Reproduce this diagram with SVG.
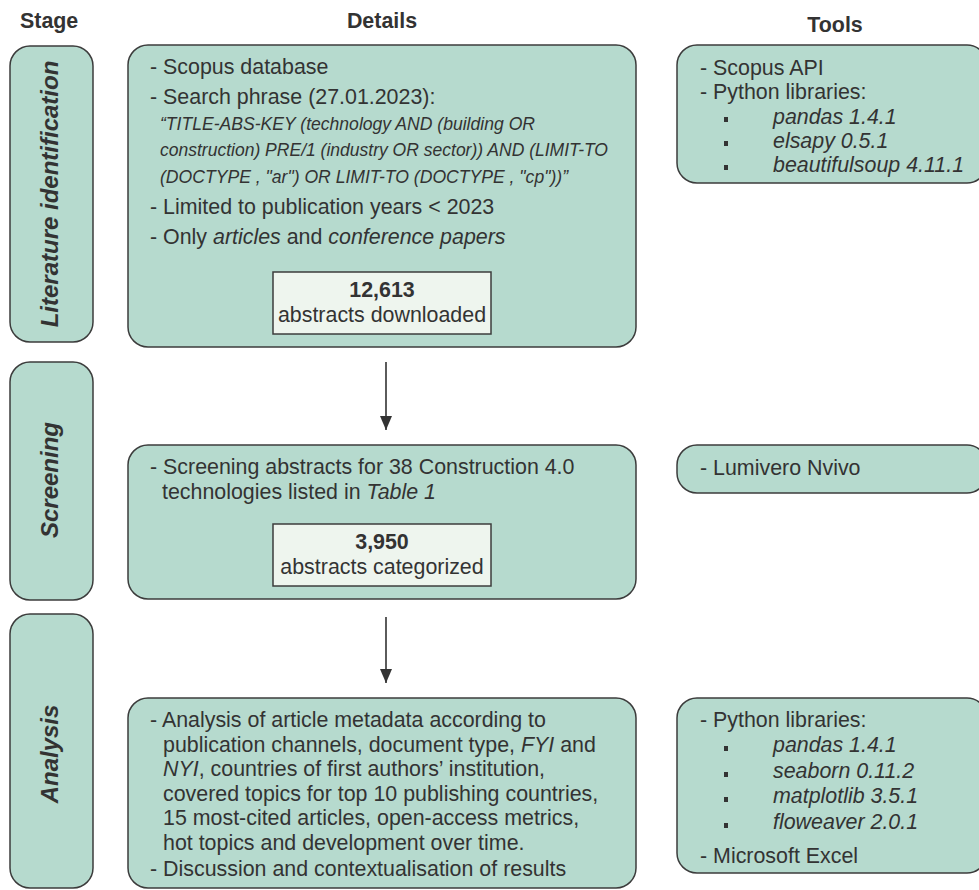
<svg xmlns="http://www.w3.org/2000/svg" width="979" height="890" viewBox="0 0 979 890">
<defs>
<style>
.box{fill:#b6dace;stroke:#3c3c3c;stroke-width:1.5}
.inner{fill:#eef5ee;stroke:#3c3c3c;stroke-width:1.5}
text{font-family:"Liberation Sans",Arial,sans-serif;fill:#333;font-size:21.4px}
.hd{font-weight:bold}
.stage{font-weight:bold;font-style:italic;font-size:24px}
.it{font-style:italic}
.q{font-style:italic;font-size:19px}
.c{text-anchor:middle}
.blt{fill:#333}
.conn{stroke:#333;stroke-width:1.6;fill:none}
</style>
<marker id="arr" viewBox="0 0 14 12" refX="14" refY="6" markerWidth="14" markerHeight="12" markerUnits="userSpaceOnUse" orient="auto">
<path d="M0,0 L14,6 L0,12 Z" fill="#333"/>
</marker>
</defs>
<rect width="979" height="890" fill="#fff"/>
<g id="headers">
<text class="hd" x="20" y="28">Stage</text>
<text class="hd c" x="382" y="28">Details</text>
<text class="hd c" x="835" y="32">Tools</text>
</g>
<g id="stage-lit">
<rect class="box" x="10" y="46" width="83" height="296" rx="20"/>
<text class="stage c" transform="translate(58,194) rotate(-90)">Literature identification</text>
</g>
<g id="stage-screening">
<rect class="box" x="10" y="362" width="83" height="238" rx="20"/>
<text class="stage c" transform="translate(58,480) rotate(-90)">Screening</text>
</g>
<g id="stage-analysis">
<rect class="box" x="10" y="614" width="83" height="274" rx="20"/>
<text class="stage c" transform="translate(58,754) rotate(-90)">Analysis</text>
</g>
<g id="details-lit">
<rect class="box" x="128" y="45" width="508" height="302" rx="20"/>
<text x="150" y="74">- Scopus database</text>
<text x="150" y="104">- Search phrase (27.01.2023):</text>
<text class="q" x="160" y="130" textLength="375" lengthAdjust="spacingAndGlyphs">“TITLE-ABS-KEY (technology AND (building OR</text>
<text class="q" x="160" y="156" textLength="448" lengthAdjust="spacingAndGlyphs">construction) PRE/1 (industry OR sector)) AND (LIMIT-TO</text>
<text class="q" x="160" y="183" textLength="408" lengthAdjust="spacingAndGlyphs">(DOCTYPE , "ar") OR LIMIT-TO (DOCTYPE , "cp"))”</text>
<text x="150" y="214">- Limited to publication years &lt; 2023</text>
<text x="150" y="244">- Only <tspan class="it">articles</tspan> and <tspan class="it">conference papers</tspan></text>
<rect class="inner" x="273" y="272" width="218" height="62"/>
<text class="hd c" x="382" y="297">12,613</text>
<text class="c" x="382" y="322">abstracts downloaded</text>
</g>
<g id="tools-lit">
<rect class="box" x="677" y="45" width="310" height="138" rx="20"/>
<text x="700" y="75">- Scopus API</text>
<text x="700" y="99">- Python libraries:</text>
<rect class="blt" x="724" y="117" width="4" height="5"/>
<text class="it" x="773" y="124">pandas 1.4.1</text>
<rect class="blt" x="724" y="141" width="4" height="5"/>
<text class="it" x="773" y="148">elsapy 0.5.1</text>
<rect class="blt" x="724" y="165" width="4" height="5"/>
<text class="it" x="773" y="172">beautifulsoup 4.11.1</text>
</g>
<g id="details-screening">
<rect class="box" x="128" y="445" width="508" height="154" rx="20"/>
<text x="150" y="474">- Screening abstracts for 38 Construction 4.0</text>
<text x="162" y="499">technologies listed in <tspan class="it">Table 1</tspan></text>
<rect class="inner" x="273" y="524" width="218" height="62"/>
<text class="hd c" x="382" y="549">3,950</text>
<text class="c" x="382" y="574">abstracts categorized</text>
</g>
<g id="tools-screening">
<rect class="box" x="677" y="445" width="310" height="48" rx="20"/>
<text x="700" y="475">- Lumivero Nvivo</text>
</g>
<g id="details-analysis">
<rect class="box" x="128" y="698" width="508" height="190" rx="20"/>
<text x="150" y="727">- Analysis of article metadata according to</text>
<text x="163" y="752">publication channels, document type, <tspan class="it">FYI</tspan> and</text>
<text x="163" y="776"><tspan class="it">NYI</tspan>, countries of first authors’ institution,</text>
<text x="163" y="801">covered topics for top 10 publishing countries,</text>
<text x="163" y="825">15 most-cited articles, open-access metrics,</text>
<text x="163" y="850">hot topics and development over time.</text>
<text x="150" y="876">- Discussion and contextualisation of results</text>
</g>
<g id="tools-analysis">
<rect class="box" x="677" y="698" width="310" height="175" rx="20"/>
<text x="700" y="727">- Python libraries:</text>
<rect class="blt" x="724" y="746" width="4" height="5"/>
<text class="it" x="773" y="752">pandas 1.4.1</text>
<rect class="blt" x="724" y="772" width="4" height="5"/>
<text class="it" x="773" y="778">seaborn 0.11.2</text>
<rect class="blt" x="724" y="797" width="4" height="5"/>
<text class="it" x="773" y="803">matplotlib 3.5.1</text>
<rect class="blt" x="724" y="823" width="4" height="5"/>
<text class="it" x="773" y="829">floweaver 2.0.1</text>
<text x="700" y="863">- Microsoft Excel</text>
</g>
<g id="connectors">
<line class="conn" x1="386" y1="362" x2="386" y2="430" marker-end="url(#arr)"/>
<line class="conn" x1="386" y1="617" x2="386" y2="683" marker-end="url(#arr)"/>
</g>
</svg>
